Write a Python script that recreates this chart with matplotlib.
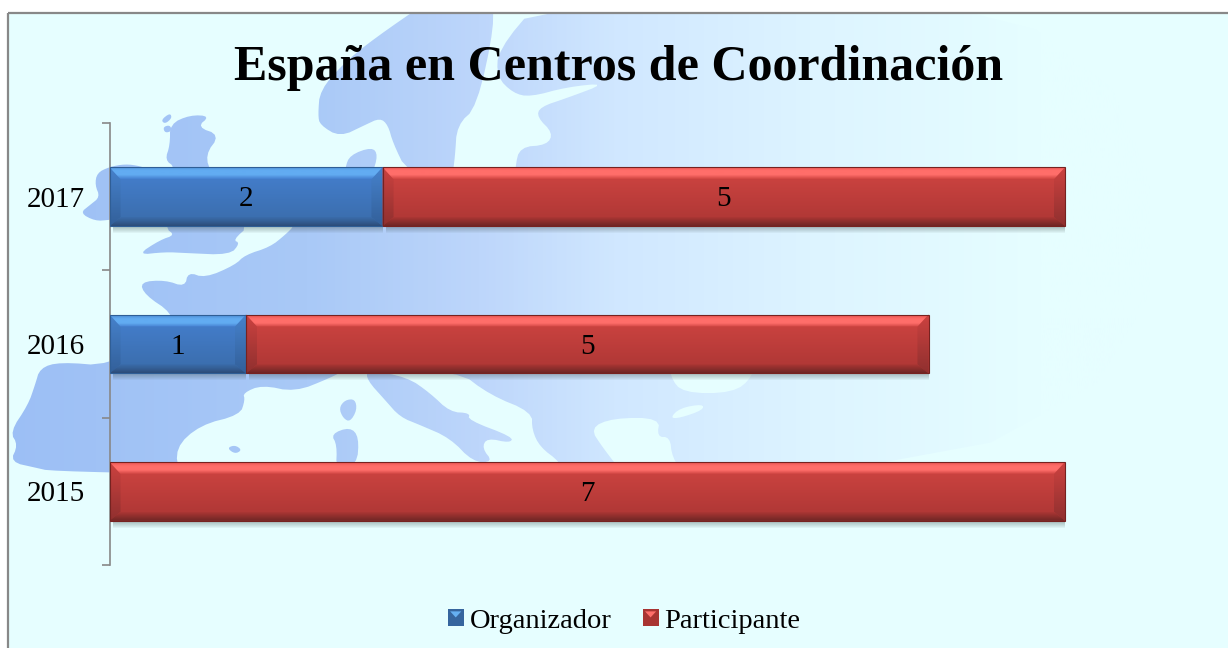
import numpy as np
import matplotlib
matplotlib.use('Agg')
import matplotlib.pyplot as plt
from matplotlib.colors import LinearSegmentedColormap
from matplotlib.patches import Polygon, Rectangle, Patch
from matplotlib.legend_handler import HandlerPatch

years = ['2015', '2016', '2017']
organizador = [0, 1, 2]
participante = [7, 5, 5]
title = 'España en Centros de Coordinación'

BG = '#E6FEFF'
W, H = 1228, 648
plt.rcParams['font.family'] = ['Liberation Serif', 'DejaVu Serif']

# background map outlines, in pixels of the picture
mainland = [(40, 368), (35, 385), (28, 405), (10, 432), (18, 445), (10, 462), (37, 468), (50, 471), (180, 474),
            (300, 472), (1150, 472), (1150, 0), (540, 0), (498, 50), (497, 77), (513, 93), (530, 97), (567, 87),
            (607, 83), (567, 98), (540, 107), (537, 117), (553, 133), (547, 145), (520, 147), (515, 167), (515, 200),
            (300, 200), (295, 225), (285, 235), (270, 247), (245, 255), (235, 265), (205, 278), (188, 272), (185, 287),
            (165, 280), (140, 282), (145, 295), (172, 313), (172, 330), (109, 366), (60, 362)]
seas = [
    # Mediterranean and Adriatic
    [(180, 476), (175, 448), (200, 425), (240, 415), (245, 400), (243, 393), (262, 385), (295, 392), (330, 378),
     (345, 370), (457, 370), (490, 395), (532, 412), (532, 430), (540, 447), (560, 462), (565, 476)],
    # Aegean
    [(590, 428), (613, 418), (660, 418), (657, 437), (670, 437), (672, 457), (685, 476), (625, 476), (603, 448)],
    [(670, 418), (680, 408), (703, 404), (703, 410), (680, 418)],
    # Black Sea
    [(668, 350), (670, 377), (683, 393), (733, 393), (753, 377), (760, 345), (700, 340)],
]
islands = [
    # Scandinavia
    [(320, 90), (345, 62), (375, 38), (430, 0), (490, 0), (495, 23), (477, 107), (457, 125), (455, 157), (452, 178),
     (407, 172), (393, 143), (388, 125), (380, 118), (365, 125), (340, 137), (320, 125), (318, 115)],
    # Denmark
    [(345, 168), (350, 155), (372, 147), (378, 155), (372, 175), (345, 185)],
    # Britain
    [(170, 124), (190, 115), (210, 116), (197, 127), (220, 135), (205, 155), (212, 175), (250, 225), (233, 240), (240, 243),
     (230, 255), (185, 253), (165, 252), (137, 255), (160, 240), (175, 235), (165, 228), (165, 175), (175, 167), (165, 160),
     (170, 145)],
    [(161, 120), (170, 113), (172, 118), (165, 124)],
    [(163, 127), (170, 125), (172, 131), (165, 133)],
    # Ireland
    [(97, 173), (109, 167), (125, 164), (140, 166), (150, 170), (150, 215), (109, 220), (95, 221), (80, 213), (90, 205),
     (100, 197), (95, 185)],
    # Italy
    [(407, 377), (430, 393), (450, 412), (470, 413), (468, 420), (513, 437), (510, 443), (487, 438), (482, 448), (493, 462),
     (473, 462), (450, 438), (420, 425), (400, 417), (385, 400), (367, 380), (367, 370)],
    # Corsica, Sardinia, Baleares
    [(345, 400), (355, 399), (357, 410), (350, 422), (343, 418), (339, 408)],
    [(331, 434), (350, 427), (359, 437), (357, 465), (336, 470), (337, 445)],
    [(227, 448), (235, 445), (242, 450), (235, 454)],
]


def smooth(shape):
    # corner cutting, the map has soft blobby edges
    pts = np.array(shape, dtype=float)
    for _ in range(2):
        nxt = np.roll(pts, -1, axis=0)
        pts = np.column_stack([0.75 * pts + 0.25 * nxt, 0.25 * pts + 0.75 * nxt]).reshape(-1, 2)
    return pts


fig = plt.figure(figsize=(W / 100, H / 100), dpi=100, facecolor='white')

bg = fig.add_axes([0, 0, 1, 1], zorder=0)
bg.set_xlim(0, W)
bg.set_ylim(H, 0)
bg.axis('off')
bg.add_patch(Rectangle((8, 13), W, H, facecolor=BG, edgecolor='none', zorder=0))

land_cmap = LinearSegmentedColormap.from_list('land', [(0, '#9CBFF5'), (0.25, '#A9C9F7'), (0.39, '#BDD6FB'),
                                                       (0.5, '#D0E7FF'), (0.66, '#DDF4FF'), (0.85, BG), (1, BG)])
gradient = np.linspace(0, 1, 600).reshape(1, -1)


def draw_land(shapes, z):
    for shape in shapes:
        im = bg.imshow(gradient, cmap=land_cmap, vmin=0, vmax=1, extent=(0, W, H, 0), aspect='auto', zorder=z)
        poly = Polygon(smooth(shape), closed=True, transform=bg.transData, facecolor='none', edgecolor='none')
        bg.add_patch(poly)
        im.set_clip_path(poly)


draw_land([mainland], 1)
for sea in seas:
    bg.add_patch(Polygon(smooth(sea), closed=True, facecolor=BG, edgecolor='none', zorder=2))
draw_land(islands, 3)
# white margin above the frame hides the land that runs off the top
bg.add_patch(Rectangle((0, 0), W, 13, facecolor='white', edgecolor='none', zorder=3.5))
bg.add_patch(Rectangle((8, 13), W, H, facecolor='none', edgecolor='#888888', linewidth=1.6, zorder=4))
bg.set_xlim(0, W)
bg.set_ylim(H, 0)

fig.text(619 / W, 1 - 68 / H, title, ha='center', va='center', fontsize=36, fontweight='bold', color='black',
         zorder=5)

ax = fig.add_axes([109.5 / W, 1 - 565 / H, 1092 / W, 442 / H], zorder=2)
ax.patch.set_alpha(0)
y = np.arange(len(years))
bar_h = 0.4
bars_org = ax.barh(y, organizador, bar_h, color='#3F78C2', label='Organizador', zorder=3)
bars_part = ax.barh(y, participante, bar_h, left=organizador, color='#C23C3A', label='Participante', zorder=3)
ax.set_xlim(0, 8)
ax.set_ylim(-0.5, 2.5)

px = 8 / 1092
py = 3 / 442


def fill_grad(verts, colors, y0, y1):
    # colors go from the low edge to the high edge
    cm = LinearSegmentedColormap.from_list('g', colors)
    im = ax.imshow(np.linspace(0, 1, 64).reshape(-1, 1), cmap=cm, extent=(0, 8, y0, y1), origin='lower',
                   aspect='auto', zorder=4)
    poly = Polygon(verts, closed=True, facecolor='none', edgecolor='none', transform=ax.transData)
    ax.add_patch(poly)
    im.set_clip_path(poly)


def bevel(patch, st):
    x0, y0 = patch.get_x(), patch.get_y()
    x1, y1 = x0 + patch.get_width(), y0 + patch.get_height()
    if patch.get_width() == 0:
        return
    dx, dt, db = 11 * px, 12 * py, 9 * py
    # soft shadow below the bar
    for i in range(1, 8):
        ax.add_patch(Rectangle((x0 + 3 * px, y0 - i * py), x1 - x0 - 3 * px, i * py, facecolor='#40504F',
                               alpha=0.06, edgecolor='none', zorder=2))
    # front face
    fill_grad([(x0, y0), (x1, y0), (x1, y1), (x0, y1)], [st['face_bot'], st['face_top']], y0, y1)
    # side, top and bottom bevels
    fill_grad([(x0, y0), (x0 + dx, y0 + db), (x0 + dx, y1 - dt), (x0, y1)], [st['side_bot'], st['side_top']], y0, y1)
    fill_grad([(x1, y0), (x1 - dx, y0 + db), (x1 - dx, y1 - dt), (x1, y1)], [st['side_bot'], st['side_top']], y0, y1)
    fill_grad([(x0, y1), (x1, y1), (x1 - dx, y1 - dt), (x0 + dx, y1 - dt)],
              [st['face_top'], st['hi'], st['hi'], st['hi2']], y1 - dt, y1)
    fill_grad([(x0, y0), (x1, y0), (x1 - dx, y0 + db), (x0 + dx, y0 + db)],
              [st['lo'], st['lo2'], st['face_bot']], y0, y0 + db)
    ax.add_patch(Rectangle((x0, y0), x1 - x0, y1 - y0, facecolor='none', edgecolor=st['edge'], linewidth=0.8, zorder=5))


blue = dict(face_top='#4580D0', face_bot='#3A6CAA', hi='#62ACF2', hi2='#4F90D8', lo='#2C4C78', lo2='#345E94',
            side_top='#4682CC', side_bot='#33609A', edge='#2F5E96')
red = dict(face_top='#D04542', face_bot='#AC3634', hi='#FF6E6A', hi2='#EA5552', lo='#6F2625', lo2='#8C2E2C',
           side_top='#CC4240', side_bot='#90302F', edge='#762220')
for patch in bars_org:
    bevel(patch, blue)
for patch in bars_part:
    bevel(patch, red)
ax.set_xlim(0, 8)
ax.set_ylim(-0.5, 2.5)

for i in range(len(years)):
    if organizador[i] > 0:
        ax.annotate(str(organizador[i]), (organizador[i] / 2, y[i]), xytext=(0, -2), textcoords='offset points',
                    ha='center', va='center', fontsize=21, zorder=6)
    ax.annotate(str(participante[i]), (organizador[i] + participante[i] / 2, y[i]), xytext=(0, -2),
                textcoords='offset points', ha='center', va='center', fontsize=21, zorder=6)

for side in ['top', 'right', 'bottom']:
    ax.spines[side].set_visible(False)
ax.spines['left'].set_color('#888888')
ax.spines['left'].set_linewidth(1.2)
ax.set_xticks([])
ax.set_yticks([-0.5, 0.5, 1.5, 2.5])
ax.set_yticklabels([])
ax.tick_params(axis='y', which='major', length=6, width=1.2, color='#888888')
ax.set_yticks(y, minor=True)
ax.set_yticklabels(years, minor=True, fontsize=21)
ax.tick_params(axis='y', which='minor', length=0, pad=18)


class BevelHandler(HandlerPatch):
    def create_artists(self, legend, orig, xd, yd, width, height, fontsize, trans):
        face, light = orig.get_facecolor(), orig.get_edgecolor()
        sq = Rectangle((-xd, -yd), width, height, facecolor=face, edgecolor='none', transform=trans)
        tri = Polygon([(-xd + width * 0.15, -yd + height * 0.85), (-xd + width * 0.85, -yd + height * 0.85),
                       (-xd + width / 2, -yd + height * 0.5)],
                      closed=True, facecolor=light, edgecolor='none', transform=trans)
        return [sq, tri]


handles = [Patch(facecolor='#36659E', edgecolor='#66B0F2', label='Organizador'),
           Patch(facecolor='#A83432', edgecolor='#FF6E6A', label='Participante')]
fig.legend(handles=handles, loc='center', bbox_to_anchor=(624 / W, 1 - 621 / H), ncol=2, frameon=False, fontsize=20.5,
           handlelength=0.56, handleheight=0.56, handletextpad=0.2, columnspacing=1.1,
           handler_map={Patch: BevelHandler()})

fig.savefig('out.png', dpi=100, facecolor='white')
